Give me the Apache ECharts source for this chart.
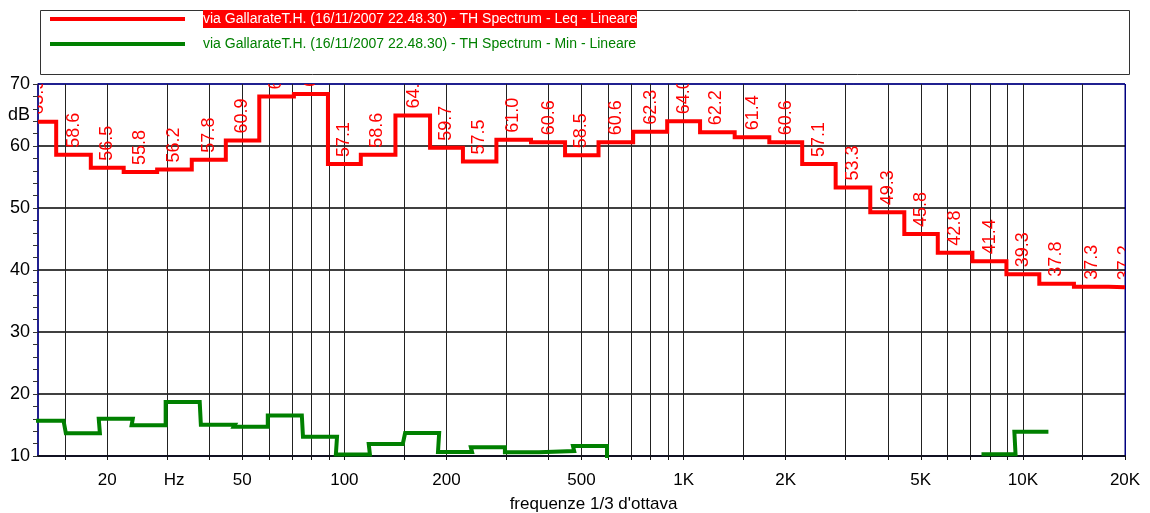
<!DOCTYPE html>
<html>
<head>
<meta charset="utf-8">
<script src="https://cdn.jsdelivr.net/npm/echarts@6/dist/echarts.min.js"></script>
<style>
html,body{margin:0;padding:0;background:#fff;}
#chart{width:1150px;height:513px;}
</style>
</head>
<body>
<div id="chart"></div>
<script>
// 1/3 octave band centre frequencies (Hz)
const BANDS = [12.5,16,20,25,31.5,40,50,63,80,100,125,160,200,250,315,400,500,630,800,1000,1250,1600,2000,2500,3150,4000,5000,6300,8000,10000,12500,16000,20000];
// Leq spectrum (dB)
const LEQ = [63.9,58.6,56.5,55.8,56.2,57.8,60.9,68.0,68.4,57.1,58.6,64.9,59.7,57.5,61.0,60.6,58.5,60.6,62.3,64.0,62.2,61.4,60.6,57.1,53.3,49.3,45.8,42.8,41.4,39.3,37.8,37.3,37.2];
// Min spectrum (dB), null = not drawn
const MIN = [15.7,13.65,16.0,14.95,18.7,15.05,14.7,16.55,13.1,10.25,11.95,13.7,10.65,11.4,10.6,10.8,11.6,9.0,null,null,null,null,null,null,null,null,null,null,10.3,13.9,null,null,null];

const SERIES_LEQ = "via GallarateT.H. (16/11/2007 22.48.30) - TH Spectrum - Leq - Lineare";
const SERIES_MIN = "via GallarateT.H. (16/11/2007 22.48.30) - TH Spectrum - Min - Lineare";

// axis ticks / labels
const X_GRID = [15,20,30,40,50,60,70,80,90,100,150,200,300,400,500,600,700,800,900,1000,1500,2000,3000,4000,5000,6000,7000,8000,9000,10000,15000,20000];
const X_LABEL_VALUES = [20,31.5,50,100,200,500,1000,2000,5000,10000,20000];
const X_LABEL_TEXT = ["20","Hz","50","100","200","500","1K","2K","5K","10K","20K"];
const Y_LABEL_VALUES = [10,20,30,40,50,60,65,70];
const Y_LABEL_TEXT = ["10","20","30","40","50","60","dB","70"];
const X_NAME = "frequenze 1/3 d'ottava";

// the Min trace is held from c*2^(-1/12) to c*2^(1/4) in the source plot
const MIN_LO = Math.pow(2, -1/12), MIN_HI = Math.pow(2, 1/4);

const leqData = BANDS.map((f, i) => [f, LEQ[i]]);
const minData = [];
BANDS.forEach((f, i) => {
  const v = MIN[i];
  if (v == null) { minData.push([f, '-']); return; }
  minData.push([f * MIN_LO, v], [f * MIN_HI, v]);
});

function lookup(values, texts, v) {
  for (let i = 0; i < values.length; i++) if (Math.abs(values[i] - v) < 1e-6 * Math.max(1, values[i])) return texts[i];
  return '';
}

const FONT = '"Liberation Sans", Arial, sans-serif';
const NAVY = '#000080';
const xSplitColors = X_GRID.map((v, i) => i === X_GRID.length - 1 ? NAVY : '#222');
const ySplitColors = ['#000', '#000', '#000', '#000', '#000', '#000', NAVY];

const chart = echarts.init(document.getElementById('chart'), null, {renderer: 'canvas'});
chart.setOption({
  animation: false,
  backgroundColor: '#fff',
  textStyle: {fontFamily: FONT},
  graphic: [{
    type: 'rect', left: 38, top: 8, z: -1,
    shape: {width: 1089, height: 64},
    style: {fill: 'none', stroke: '#333', lineWidth: 1}
  }],
  legend: {
    orient: 'vertical', left: 50, top: 10, padding: 0,
    itemWidth: 135, itemHeight: 4, itemGap: 7,
    icon: 'rect', selectedMode: false,
    data: [SERIES_LEQ, SERIES_MIN],
    formatter: name => name === SERIES_LEQ ? '{g| }{r|' + name + '}' : '{g| }{n|' + name + '}',
    textStyle: {
      fontFamily: FONT, fontSize: 14,
      rich: {
        g: {width: 13, fontSize: 14},
        r: {backgroundColor: '#ff0000', color: '#ffffff', fontSize: 14, fontFamily: FONT, lineHeight: 18, height: 18},
        n: {color: '#008000', fontSize: 14, fontFamily: FONT, lineHeight: 18, height: 18}
      }
    }
  },
  grid: {
    left: 38, right: 25, top: 84, bottom: 57,
    show: true, borderColor: NAVY, borderWidth: 1,
    containLabel: false, outerBoundsMode: 'none'
  },
  xAxis: {
    type: 'log', logBase: 10, min: 12.5, max: 20000,
    name: X_NAME, nameLocation: 'middle', nameGap: 40,
    nameTextStyle: {fontFamily: FONT, fontSize: 17, color: '#000', padding: [0, 0, 0, 24]},
    axisLine: {show: true, onZero: false, lineStyle: {color: '#111122', width: 2}},
    axisTick: {show: true, length: 4, customValues: X_GRID, lineStyle: {color: '#111', width: 1}},
    axisLabel: {
      customValues: X_LABEL_VALUES, margin: 16,
      fontFamily: FONT, fontSize: 17, color: '#000',
      formatter: v => lookup(X_LABEL_VALUES, X_LABEL_TEXT, v)
    },
    splitLine: {show: true, lineStyle: {color: xSplitColors, width: 1}},
    minorTick: {show: false}, minorSplitLine: {show: false}
  },
  yAxis: {
    type: 'value', min: 10, max: 70, interval: 10,
    axisLine: {show: true, lineStyle: {color: NAVY, width: 1.5}},
    axisTick: {show: true, length: 5, lineStyle: {color: '#333'}},
    minorTick: {show: true, splitNumber: 5, length: 5, lineStyle: {color: '#333'}},
    axisLabel: {
      customValues: Y_LABEL_VALUES, margin: 8,
      fontFamily: FONT, fontSize: 18, color: '#000',
      formatter: v => lookup(Y_LABEL_VALUES, Y_LABEL_TEXT, v)
    },
    splitLine: {show: true, lineStyle: {color: ySplitColors, width: 1.5}}
  },
  series: [
    {
      name: SERIES_LEQ, type: 'line', data: leqData, step: 'middle',
      symbol: 'none', color: '#ff0000', clip: true, z: 4,
      lineStyle: {color: '#ff0000', width: 4, join: 'miter'}
    },
    {
      name: SERIES_MIN, type: 'line', data: minData,
      symbol: 'none', color: '#008000', clip: true, connectNulls: false, z: 4,
      lineStyle: {color: '#008000', width: 4, join: 'miter'}
    },
    {
      name: 'LeqLabels', type: 'custom', data: leqData, clip: true, silent: true, z: 5,
      renderItem: (params, api) => {
        const v = api.value(1);
        const p = api.coord([api.value(0), v]);
        return {
          type: 'text', x: p[0], y: p[1] - 7, rotation: Math.PI / 2,
          style: {
            text: v.toFixed(1), fill: '#ff0000',
            font: '18px ' + FONT, align: 'left', verticalAlign: 'middle'
          }
        };
      }
    }
  ]
});
</script>
</body>
</html>
